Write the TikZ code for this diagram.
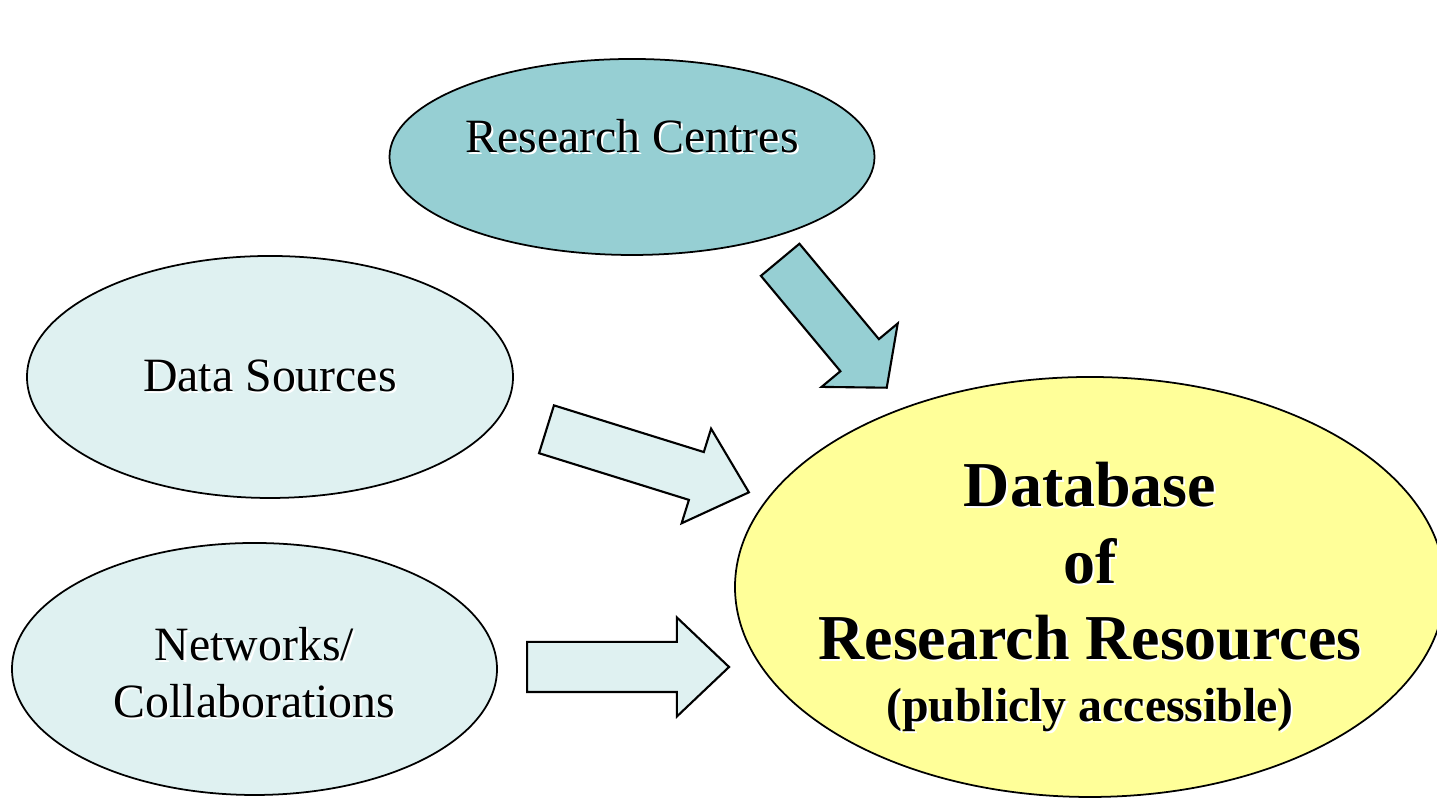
\documentclass[tikz,border=0pt]{standalone}
\usepackage{fontspec}
\setmainfont{Liberation Serif}
\usetikzlibrary{shapes.geometric,shapes.arrows}
\definecolor{centrefill}{RGB}{150,207,211}
\definecolor{sourcefill}{RGB}{223,241,241}
\definecolor{basefill}{RGB}{255,255,153}
% white drop shadow behind a line of text
\newcommand{\shadowed}[1]{\makebox[0pt][l]{\hspace{0.6pt}\raisebox{-0.6pt}{\color{white}#1}}#1}
\begin{document}
\begin{tikzpicture}[
blob/.style={
% The shape:
ellipse,
draw=black,
line width=0.5pt,
inner sep=0pt,
align=center,
font=\fontsize{13.6}{16.2}\selectfont
},
blobtext/.style={
inner sep=0pt,
align=center,
font=\fontsize{13.6}{16.2}\selectfont
},
fatarrow/.style={
single arrow,
draw=black,
line width=0.6pt,
inner xsep=0pt,
inner ysep=0.24cm,
single arrow head extend=0.245cm,
anchor=tail
}
]
\useasboundingbox (0,0) rectangle (14.37,7.98);
% The sources:
\node (centres) [blob,fill=centrefill,minimum width=4.85cm,minimum height=1.96cm] at (6.32,6.41) {};
\node (centrestext) [blobtext] at ([yshift=2mm]centres.center) {\shadowed{Research Centres}};
\node (sources) [blob,fill=sourcefill,minimum width=4.86cm,minimum height=2.42cm] at (2.70,4.21) {\shadowed{Data Sources}};
\node (networks) [blob,fill=sourcefill,minimum width=4.85cm,minimum height=2.52cm] at (2.545,1.29) {};
\node (networkstext) [blobtext] at ([yshift=-0.5mm]networks.center) {\shadowed{Networks/}\\\shadowed{Collaborations}};
% The target:
\node (database) [blob,fill=basefill,minimum width=7.10cm,minimum height=4.20cm] at (10.90,2.11) {};
\node (databasetext) [blobtext,font=\bfseries\fontsize{18.2}{21.8}\selectfont] at ([yshift=-1.1mm]database.center)
{\shadowed{Database}\\\shadowed{of}\\\shadowed{Research Resources}\\[-4.2pt]\fontsize{13.6}{21.8}\selectfont\shadowed{(publicly accessible)}};
% Block arrows:
\node (centresarrow) [fatarrow,fill=centrefill,minimum height=1.665cm,single arrow tip angle=99,rotate=-50.2] at (7.795,5.39) {};
\node (sourcesarrow) [fatarrow,fill=sourcefill,minimum height=2.12cm,single arrow tip angle=84,rotate=-17.3] at (5.455,3.69) {};
\node (networksarrow) [fatarrow,fill=sourcefill,minimum height=2.02cm,single arrow tip angle=87] at (5.26,1.31) {};
\end{tikzpicture}
\end{document}
